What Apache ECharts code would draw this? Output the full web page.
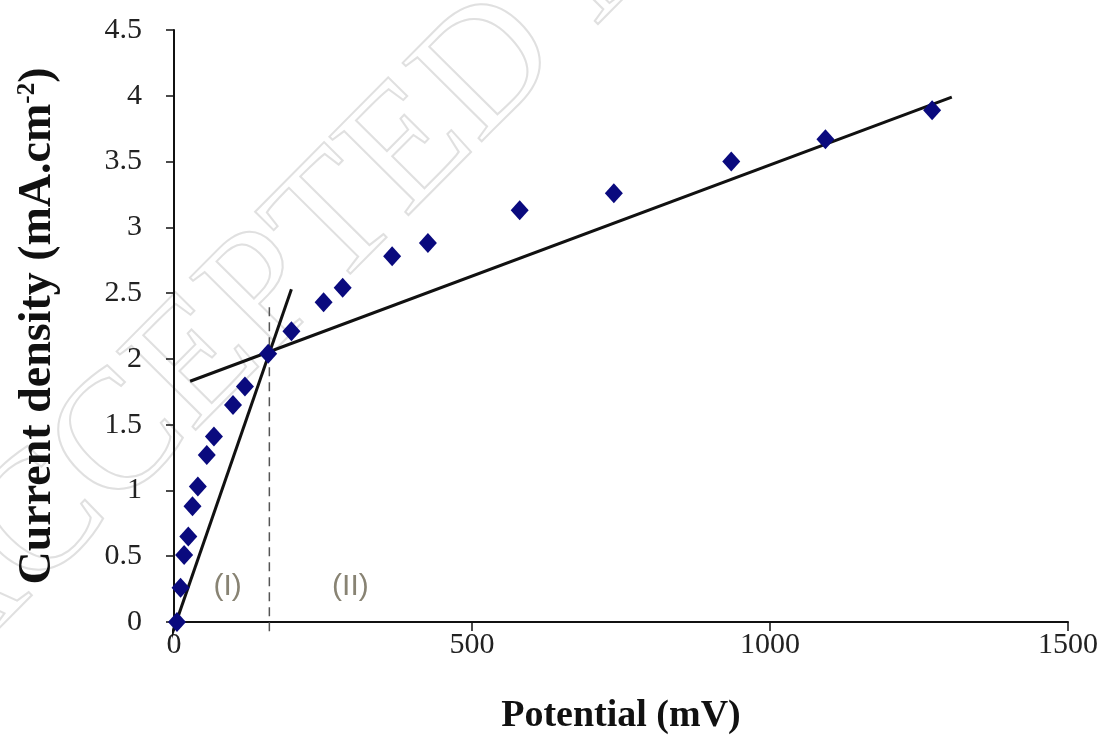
<!DOCTYPE html>
<html>
<head>
<meta charset="utf-8">
<script src="https://cdn.jsdelivr.net/npm/echarts@6/dist/echarts.min.js"></script>
<style>
  html, body { margin: 0; padding: 0; background: #fff; }
  #main { width: 1106px; height: 749px; }
</style>
</head>
<body>
<div id="main"></div>
<script>
// measured points (mV, mA.cm-2)
var potential = [5, 11, 17, 24, 31, 40, 55, 67, 99, 119, 158, 197, 251, 283, 366, 426, 580, 738, 935, 1093, 1272];
var current = [0.0, 0.26, 0.51, 0.65, 0.88, 1.03, 1.27, 1.41, 1.65, 1.79, 2.04, 2.21, 2.43, 2.54, 2.78, 2.88, 3.13, 3.26, 3.50, 3.67, 3.89];

// fitted lines, end points
var lineOneX = [-7, 197];
var lineOneY = [-0.14, 2.53];
var lineTwoX = [27, 1305];
var lineTwoY = [1.83, 3.99];
// dashed marker at the breakpoint
var breakX = [160, 160];
var breakY = [-0.07, 2.4];

var regionLabels = ['(I)', '(II)'];
var regionX = [90, 296];
var regionY = [0.27, 0.27];

function pairs(xs, ys) {
  return xs.map(function (x, i) { return [x, ys[i]]; });
}

var chart = echarts.init(document.getElementById('main'));
var serif = '"Liberation Serif", "DejaVu Serif", serif';

var option = {
  backgroundColor: '#fff',
  animation: false,
  // faint watermark behind the plot
  graphic: [{
    type: 'text',
    x: -25,
    y: 710,
    rotation: 0.79,
    z: -10,
    silent: true,
    style: {
      x: 0,
      y: 0,
      text: 'ACCEPTED MANUSCRIPT',
      font: '170px ' + serif,
      verticalAlign: 'bottom',
      fill: 'transparent',
      stroke: '#e0e0e0',
      lineWidth: 2
    }
  }],
  grid: { left: 174, right: 38, top: 30, bottom: 127 },
  xAxis: {
    type: 'value',
    min: 0, max: 1500, interval: 500,
    name: 'Potential (mV)',
    nameLocation: 'middle',
    nameGap: 75,
    nameTextStyle: { fontFamily: serif, fontSize: 38, fontWeight: 'bold', color: '#111' },
    axisLine: { onZero: false, lineStyle: { color: '#111', width: 2 } },
    axisTick: { show: true, length: 9, inside: false, lineStyle: { color: '#111', width: 1.5 } },
    axisLabel: {
      fontFamily: serif, fontSize: 30, color: '#222', margin: 8,
      formatter: function (v) { return String(v); }
    },
    splitLine: { show: false }
  },
  yAxis: {
    type: 'value',
    min: 0, max: 4.5, interval: 0.5,
    name: '{b|Current density (mA.cm}{s|-2}{b|)}',
    nameLocation: 'middle',
    nameGap: 113,
    nameTextStyle: {
      rich: {
        b: { fontFamily: serif, fontSize: 46, fontWeight: 'bold', color: '#111' },
        s: { fontFamily: serif, fontSize: 25, fontWeight: 'bold', color: '#111', verticalAlign: 'top', padding: [0, 0, 20, 0] }
      }
    },
    axisLine: { show: true, lineStyle: { color: '#111', width: 2 } },
    axisTick: { show: true, length: 8, lineStyle: { color: '#111', width: 1.5 } },
    axisLabel: {
      fontFamily: serif, fontSize: 30, color: '#222', margin: 32,
      formatter: function (v) { return String(v); }
    },
    splitLine: { show: false }
  },
  series: [
    {
      type: 'line',
      data: pairs(breakX, breakY),
      showSymbol: false,
      clip: false,
      lineStyle: { color: '#555', width: 1.5, type: [9, 6] },
      z: 1
    },
    {
      type: 'line',
      data: pairs(lineOneX, lineOneY),
      showSymbol: false,
      clip: false,
      lineStyle: { color: '#111', width: 3 },
      z: 3
    },
    {
      type: 'line',
      data: pairs(lineTwoX, lineTwoY),
      showSymbol: false,
      clip: false,
      lineStyle: { color: '#111', width: 3 },
      z: 3
    },
    {
      type: 'scatter',
      data: pairs(potential, current),
      symbol: 'diamond',
      symbolSize: [18, 20],
      clip: false,
      itemStyle: { color: '#0a0a7e', opacity: 1 },
      z: 4
    },
    {
      type: 'scatter',
      data: regionLabels.map(function (t, i) { return { value: [regionX[i], regionY[i]], name: t }; }),
      symbolSize: 0,
      label: {
        show: true,
        position: 'inside',
        formatter: function (p) { return p.name; },
        fontFamily: '"Liberation Sans Narrow", "Liberation Sans", sans-serif',
        fontSize: 30,
        color: '#6a6450'
      },
      z: 5
    }
  ]
};

chart.setOption(option);
</script>
</body>
</html>
